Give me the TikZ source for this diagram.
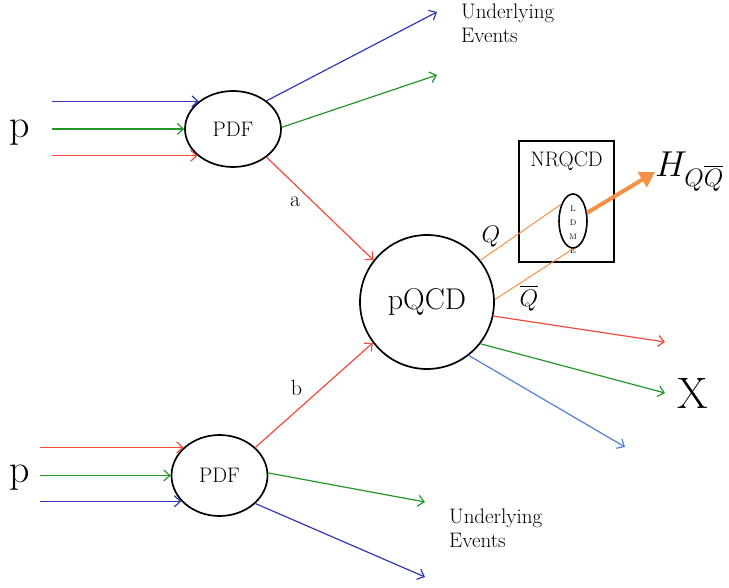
\RequirePackage{fix-cm}
\documentclass[tikz,border=0pt]{standalone}
\usepackage{amsmath,amssymb}
\usepackage{tikz}
\usetikzlibrary{positioning,arrows.meta,calc,shapes.geometric}
\usepackage{xcolor}
\definecolor{pblue}{RGB}{50,55,185}
\definecolor{pgreen}{RGB}{35,150,40}
\definecolor{pred}{RGB}{240,75,60}
\definecolor{porange}{RGB}{245,145,70}
\definecolor{plblue}{RGB}{85,125,215}
\newcommand{\Qbar}{\overline{Q}}
\tikzset{
  >={Straight Barb[length=6pt,width=11pt]},
  blob/.style={draw, ellipse, line width=1.7pt, inner sep=0pt},
  parton/.style={->, line width=1.2pt},
}

\begin{document}
\begin{tikzpicture}[
  x=1pt, y=-1pt,
  every node/.style={font=\fontsize{21}{24}\selectfont},
  big/.style={font=\fontsize{44}{48}\selectfont},
  small/.style={font=\fontsize{22}{24}\selectfont},
  quark/.style={porange, line width=1pt},
]
\useasboundingbox (0,0) rectangle (729,588);

% blobs
\node[blob, minimum width=96, minimum height=76] (pdfa) at (233,129) {PDF};
\node[blob, minimum width=96, minimum height=81] (pdfb) at (219.5,475.5) {PDF};
\node[blob, circle, minimum size=134, font=\fontsize{30}{34}\selectfont] (hard) at (427,302) {pQCD};
\node[draw, line width=1.6pt, minimum width=95, minimum height=121,
  label={[anchor=north, yshift=-8pt]north:NRQCD}] (nrqcd) at (566.5,201.5) {};
\node[blob, line width=1.6pt, minimum width=28, minimum height=54] (ldme) at (573,221) {};
\node[align=center, font=\fontsize{8}{14}\selectfont] (ldmtxt) at (573,230) {L\\D\\M\\E};

% labels
\node[font=\fontsize{40}{44}\selectfont] (pa) at (20,133) {p};
\node[font=\fontsize{40}{44}\selectfont] (pb) at (20,478) {p};
\node[align=left, anchor=north west, inner sep=0pt] (uea) at (461,4) {Underlying\\Events};
\node[align=left, anchor=north west, inner sep=0pt] (ueb) at (449,509) {Underlying\\Events};
\node[font=\fontsize{36}{40}\selectfont, anchor=west, inner sep=0pt] (hqq) at (655,172) {$H_{Q\Qbar}$};
\node[big] (xout) at (693,393) {X};
\node[font=\fontsize{24}{28}\selectfont] (lq) at (491,237) {$Q$};
\node[font=\fontsize{24}{28}\selectfont] (lqb) at (529,298) {$\Qbar$};

% free ends
\coordinate (ina) at (52,0);
\coordinate (inb) at (40,0);
\coordinate (ta) at (437,12);
\coordinate (tb) at (437,75);
\coordinate (ba) at (425,502);
\coordinate (bb) at (425,577);
\coordinate (xr) at (665,342);
\coordinate (xg) at (665,393);
\coordinate (xb) at (625,447);

% incoming protons
\draw[parton,pblue] (pdfa.141 -| ina) -- (pdfa.141);
\draw[parton,pgreen] (pdfa.180 -| ina) -- (pdfa.180);
\draw[parton,pred] (pdfa.217 -| ina) -- (pdfa.217);
\draw[parton,pred] (pdfb.142 -| inb) -- (pdfb.142);
\draw[parton,pgreen] (pdfb.180 -| inb) -- (pdfb.180);
\draw[parton,pblue] (pdfb.214 -| inb) -- (pdfb.214);

% underlying events
\draw[parton,pblue] (pdfa.40) -- (ta);
\draw[parton,pgreen] (pdfa.2) -- (tb);
\draw[parton,pgreen] (pdfb.3) -- (ba);
\draw[parton,pblue] (pdfb.322) -- (bb);

% partons into the hard process
\path[parton,pred]
(pdfa.320) edge node[small, pos=0.35, below left=0pt, black] {a} (hard.142)
(pdfb.38) edge node[small, pos=0.35, above=11pt, black] {b} (hard.217);

% heavy quark pair
\draw[quark] (hard.38) -- (ldme.125);
\draw[quark] (hard.2) -- (ldme.south);
\draw[-{Triangle[length=15pt,width=17pt]}, porange, line width=4pt] (ldme.30) -- (hqq.west);

% X
\draw[parton,pred] (hard.348) -- (xr);
\draw[parton,pgreen] (hard.322) -- (xg);
\draw[parton,plblue] (hard.308) -- (xb);
\end{tikzpicture}
\end{document}
